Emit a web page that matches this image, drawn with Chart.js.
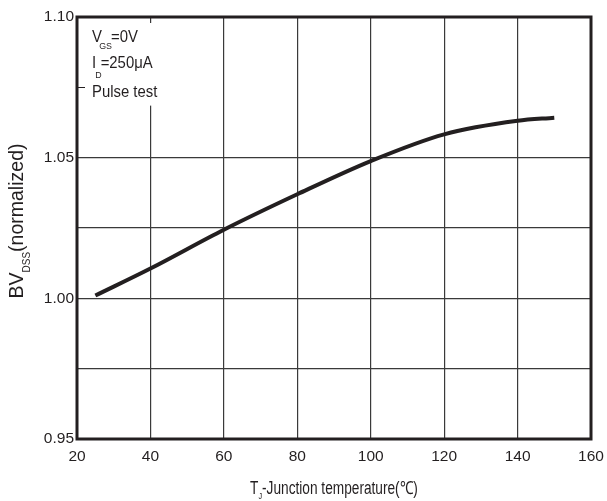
<!DOCTYPE html>
<html>
<head>
<meta charset="utf-8">
<script src="https://cdn.jsdelivr.net/npm/chart.js@4/dist/chart.umd.min.js"></script>
<style>
html,body{margin:0;padding:0;background:#fff;}
#wrap{width:607px;height:501px;position:relative;}
</style>
</head>
<body>
<div id="wrap"><canvas id="c" width="607" height="501"></canvas></div>
<script>
// Data
const temperatures = [25, 40, 60, 80, 100, 120, 140, 150];
const bvdssNormalized = [1.001, 1.0106, 1.0244, 1.037, 1.0488, 1.0583, 1.0631, 1.0642];
const xTickValues = [20, 40, 60, 80, 100, 120, 140, 160];
const yTickLabels = ['0.95', '1.00', '1.05', '1.10'];
const annotationLines = [
  [{t:'V'}, {t:'GS', sub:true}, {t:'=0V'}],
  [{t:'I'}, {t:'D', sub:true}, {t:'=250μA'}],
  [{t:'Pulse test'}]
];

const INK = '#231f20';
const FONT = '"Liberation Sans", Arial, Helvetica, sans-serif';

const points = temperatures.map((x, i) => ({x: x, y: bvdssNormalized[i]}));

const decor = {
  id: 'decor',
  beforeDatasetsDraw(chart) {
    const ctx = chart.ctx, a = chart.chartArea, ys = chart.scales.y;
    ctx.save();
    ctx.fillStyle = '#fff';
    ctx.fillRect(a.left + 2, a.top + 6, 88, ys.getPixelForValue(1.0685) - (a.top + 6));
    ctx.strokeStyle = INK;
    ctx.lineWidth = 1;
    const yt = Math.round(ys.getPixelForValue(1.075)) + 0.5;
    ctx.beginPath(); ctx.moveTo(a.left, yt); ctx.lineTo(a.left + 8, yt); ctx.stroke();
    ctx.restore();
  },
  afterDatasetsDraw(chart) {
    const ctx = chart.ctx, a = chart.chartArea;
    ctx.save();
    ctx.strokeStyle = INK;
    ctx.lineWidth = 3;
    ctx.strokeRect(a.left, a.top, a.right - a.left, a.bottom - a.top);

    ctx.fillStyle = INK;
    ctx.textBaseline = 'alphabetic';
    ctx.textAlign = 'left';

    // annotation (slightly condensed)
    const baselines = [25, 51, 80];
    const subOff = [7, 10, 0];
    const sx = 0.93;
    annotationLines.forEach((segs, li) => {
      ctx.save();
      ctx.translate(a.left + 15, a.top + baselines[li]);
      ctx.scale(sx, 1);
      let x = 0;
      segs.forEach(s => {
        if (s.sub) {
          ctx.font = '9.5px ' + FONT;
          const px = li === 1 ? x - 1 : x - 3;
          ctx.fillText(s.t, px, subOff[li]);
          x = px + ctx.measureText(s.t).width - 1;
        } else {
          ctx.font = '16px ' + FONT;
          ctx.fillText(s.t, x, 0);
          x += ctx.measureText(s.t).width;
        }
      });
      ctx.restore();
    });

    // x title with subscript (condensed)
    const xsegs = [{t:'T', f:18, dy:0}, {t:'J', f:9.5, dy:5}, {t:'-Junction temperature(℃)', f:18, dy:0}];
    const xsc = 0.76;
    let total = 0;
    xsegs.forEach(s => { ctx.font = s.f + 'px ' + FONT; total += ctx.measureText(s.t).width; });
    ctx.save();
    ctx.translate((a.left + a.right) / 2 - total * xsc / 2, 494);
    ctx.scale(xsc, 1);
    let xx = 0;
    xsegs.forEach(s => { ctx.font = s.f + 'px ' + FONT; ctx.fillText(s.t, xx, s.dy); xx += ctx.measureText(s.t).width; });
    ctx.restore();

    // y title rotated with subscript
    const ysegs = [{t:'BV', f:19.5, dy:0}, {t:'DSS', f:10, dy:7}, {t:'(normalized)', f:19.5, dy:0}];
    ctx.translate(23, (a.top + a.bottom) / 2 - 7);
    ctx.rotate(-Math.PI / 2);
    total = 0;
    ysegs.forEach(s => { ctx.font = s.f + 'px ' + FONT; total += ctx.measureText(s.t).width; });
    let yx = -total / 2;
    ysegs.forEach(s => { ctx.font = s.f + 'px ' + FONT; ctx.fillText(s.t, yx, s.dy); yx += ctx.measureText(s.t).width; });
    ctx.restore();
  }
};

new Chart(document.getElementById('c'), {
  type: 'line',
  data: {
    datasets: [{
      data: points,
      borderColor: INK,
      borderWidth: 4,
      pointRadius: 0,
      fill: false,
      cubicInterpolationMode: 'monotone'
    }]
  },
  options: {
    responsive: false,
    animation: false,
    devicePixelRatio: 1,
    layout: {padding: {top: 17, right: 16, left: 0, bottom: 0}},
    plugins: {legend: {display: false}, tooltip: {enabled: false}},
    scales: {
      x: {
        type: 'linear', min: 20, max: 160,
        afterBuildTicks(s) { s.ticks = xTickValues.map(v => ({value: v})); },
        afterFit(s) { s.height = 62; s.paddingLeft = 0; s.paddingRight = 0; },
        grid: {
          color: c => (c.tick && (c.tick.value === 20 || c.tick.value === 160)) ? 'rgba(0,0,0,0)' : '#3a3a3a',
          lineWidth: 1.2, drawTicks: false
        },
        border: {display: false},
        ticks: {color: INK, font: {family: FONT, size: 15.5}, padding: 8, maxRotation: 0,
          callback: v => String(v)}
      },
      y: {
        type: 'linear', min: 0.95, max: 1.10,
        afterBuildTicks(s) {
          const t = [];
          for (let i = 0; i <= 6; i++) t.push({value: 0.95 + i * 0.025});
          s.ticks = t;
        },
        afterFit(s) { s.width = 77; s.paddingTop = 0; s.paddingBottom = 0; },
        grid: {
          color: c => {
            if (!c.tick) return '#3a3a3a';
            const k = Math.round(c.tick.value * 1000);
            return (k === 950 || k === 1100 || k === 1075) ? 'rgba(0,0,0,0)' : '#3a3a3a';
          },
          lineWidth: 1.2, drawTicks: false
        },
        border: {display: false},
        ticks: {color: INK, font: {family: FONT, size: 15.5}, padding: 3,
          callback: v => {
            const k = Math.round(v * 1000);
            const idx = [950, 1000, 1050, 1100].indexOf(k);
            return idx >= 0 ? yTickLabels[idx] : '';
          }}
      }
    }
  },
  plugins: [decor]
});
</script>
</body>
</html>
